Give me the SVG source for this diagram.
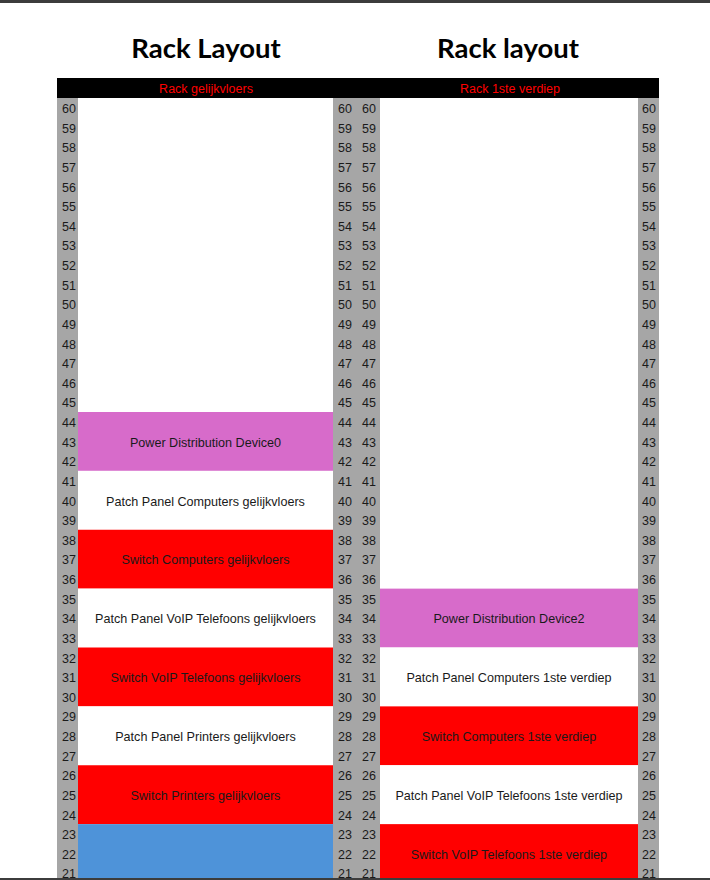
<svg xmlns="http://www.w3.org/2000/svg" width="710" height="880" viewBox="0 0 710 880">
<style>
.title{font-family:Lato,"Open Sans","Liberation Sans",sans-serif;font-weight:bold;font-size:27.5px;fill:#000;text-anchor:middle}
.hdr{font-family:"Liberation Sans",Arial,sans-serif;font-size:12.5px;fill:#ff0000;text-anchor:middle}
.num{font-family:"Liberation Sans",Arial,sans-serif;font-size:12.5px;fill:#1a1a1a}
.lbl{font-family:"Liberation Sans",Arial,sans-serif;font-size:12.6px;fill:#1a1a1a;text-anchor:middle}
.gray{fill:#a6a6a6}
.pink{fill:#d76bca}
.red{fill:#ff0000}
.white{fill:#ffffff}
.blue{fill:#4e93d9}
</style>
<rect x="0" y="0" width="710" height="880" fill="#ffffff"/>
<rect x="0" y="0" width="710" height="3" fill="#3c3c3c"/>
<text class="title" x="206" y="58">Rack Layout</text>
<text class="title" x="508" y="58">Rack layout</text>
<rect x="57" y="78" width="602" height="20" fill="#000000"/>
<text class="hdr" x="206" y="92.5">Rack gelijkvloers</text>
<text class="hdr" x="510" y="92.5">Rack 1ste verdiep</text>
<g id="columns">
<rect class="gray" x="57" y="98" width="21" height="782"/>
<rect class="gray" x="333" y="98" width="47" height="782"/>
<rect class="gray" x="638" y="98" width="21" height="782"/>
</g>
<g id="left-pdu"><rect class="pink" x="78" y="412" width="255" height="58.875"/><text class="lbl" x="205.5" y="446.625">Power Distribution Device0</text></g>
<g id="left-pp-computers"><rect class="white" x="78" y="470.875" width="255" height="58.875"/><text class="lbl" x="205.5" y="505.5">Patch Panel Computers gelijkvloers</text></g>
<g id="left-sw-computers"><rect class="red" x="78" y="529.75" width="255" height="58.875"/><text class="lbl" x="205.5" y="564.375">Switch Computers gelijkvloers</text></g>
<g id="left-pp-voip"><rect class="white" x="78" y="588.625" width="255" height="58.875"/><text class="lbl" x="205.5" y="623.25">Patch Panel VoIP Telefoons gelijkvloers</text></g>
<g id="left-sw-voip"><rect class="red" x="78" y="647.5" width="255" height="58.875"/><text class="lbl" x="205.5" y="682.125">Switch VoIP Telefoons gelijkvloers</text></g>
<g id="left-pp-printers"><rect class="white" x="78" y="706.375" width="255" height="58.875"/><text class="lbl" x="205.5" y="741">Patch Panel Printers gelijkvloers</text></g>
<g id="left-sw-printers"><rect class="red" x="78" y="765.25" width="255" height="58.875"/><text class="lbl" x="205.5" y="799.875">Switch Printers gelijkvloers</text></g>
<g id="left-blue"><rect class="blue" x="78" y="824.125" width="255" height="58.875"/></g>
<g id="right-pdu"><rect class="pink" x="380" y="588.625" width="258" height="58.875"/><text class="lbl" x="509" y="623.25">Power Distribution Device2</text></g>
<g id="right-pp-computers"><rect class="white" x="380" y="647.5" width="258" height="58.875"/><text class="lbl" x="509" y="682.125">Patch Panel Computers 1ste verdiep</text></g>
<g id="right-sw-computers"><rect class="red" x="380" y="706.375" width="258" height="58.875"/><text class="lbl" x="509" y="741">Switch Computers 1ste verdiep</text></g>
<g id="right-pp-voip"><rect class="white" x="380" y="765.25" width="258" height="58.875"/><text class="lbl" x="509" y="799.875">Patch Panel VoIP Telefoons 1ste verdiep</text></g>
<g id="right-sw-voip"><rect class="red" x="380" y="824.125" width="258" height="58.875"/><text class="lbl" x="509" y="858.75">Switch VoIP Telefoons 1ste verdiep</text></g>
<g id="numbers">
<text class="num"><tspan x="62" y="113">60</tspan><tspan x="62" y="132.625">59</tspan><tspan x="62" y="152.25">58</tspan><tspan x="62" y="171.875">57</tspan><tspan x="62" y="191.5">56</tspan><tspan x="62" y="211.125">55</tspan><tspan x="62" y="230.75">54</tspan><tspan x="62" y="250.375">53</tspan><tspan x="62" y="270">52</tspan><tspan x="62" y="289.625">51</tspan><tspan x="62" y="309.25">50</tspan><tspan x="62" y="328.875">49</tspan><tspan x="62" y="348.5">48</tspan><tspan x="62" y="368.125">47</tspan><tspan x="62" y="387.75">46</tspan><tspan x="62" y="407.375">45</tspan><tspan x="62" y="427">44</tspan><tspan x="62" y="446.625">43</tspan><tspan x="62" y="466.25">42</tspan><tspan x="62" y="485.875">41</tspan><tspan x="62" y="505.5">40</tspan><tspan x="62" y="525.125">39</tspan><tspan x="62" y="544.75">38</tspan><tspan x="62" y="564.375">37</tspan><tspan x="62" y="584">36</tspan><tspan x="62" y="603.625">35</tspan><tspan x="62" y="623.25">34</tspan><tspan x="62" y="642.875">33</tspan><tspan x="62" y="662.5">32</tspan><tspan x="62" y="682.125">31</tspan><tspan x="62" y="701.75">30</tspan><tspan x="62" y="721.375">29</tspan><tspan x="62" y="741">28</tspan><tspan x="62" y="760.625">27</tspan><tspan x="62" y="780.25">26</tspan><tspan x="62" y="799.875">25</tspan><tspan x="62" y="819.5">24</tspan><tspan x="62" y="839.125">23</tspan><tspan x="62" y="858.75">22</tspan><tspan x="62" y="878.375">21</tspan></text>
<text class="num"><tspan x="338" y="113">60</tspan><tspan x="338" y="132.625">59</tspan><tspan x="338" y="152.25">58</tspan><tspan x="338" y="171.875">57</tspan><tspan x="338" y="191.5">56</tspan><tspan x="338" y="211.125">55</tspan><tspan x="338" y="230.75">54</tspan><tspan x="338" y="250.375">53</tspan><tspan x="338" y="270">52</tspan><tspan x="338" y="289.625">51</tspan><tspan x="338" y="309.25">50</tspan><tspan x="338" y="328.875">49</tspan><tspan x="338" y="348.5">48</tspan><tspan x="338" y="368.125">47</tspan><tspan x="338" y="387.75">46</tspan><tspan x="338" y="407.375">45</tspan><tspan x="338" y="427">44</tspan><tspan x="338" y="446.625">43</tspan><tspan x="338" y="466.25">42</tspan><tspan x="338" y="485.875">41</tspan><tspan x="338" y="505.5">40</tspan><tspan x="338" y="525.125">39</tspan><tspan x="338" y="544.75">38</tspan><tspan x="338" y="564.375">37</tspan><tspan x="338" y="584">36</tspan><tspan x="338" y="603.625">35</tspan><tspan x="338" y="623.25">34</tspan><tspan x="338" y="642.875">33</tspan><tspan x="338" y="662.5">32</tspan><tspan x="338" y="682.125">31</tspan><tspan x="338" y="701.75">30</tspan><tspan x="338" y="721.375">29</tspan><tspan x="338" y="741">28</tspan><tspan x="338" y="760.625">27</tspan><tspan x="338" y="780.25">26</tspan><tspan x="338" y="799.875">25</tspan><tspan x="338" y="819.5">24</tspan><tspan x="338" y="839.125">23</tspan><tspan x="338" y="858.75">22</tspan><tspan x="338" y="878.375">21</tspan></text>
<text class="num"><tspan x="362" y="113">60</tspan><tspan x="362" y="132.625">59</tspan><tspan x="362" y="152.25">58</tspan><tspan x="362" y="171.875">57</tspan><tspan x="362" y="191.5">56</tspan><tspan x="362" y="211.125">55</tspan><tspan x="362" y="230.75">54</tspan><tspan x="362" y="250.375">53</tspan><tspan x="362" y="270">52</tspan><tspan x="362" y="289.625">51</tspan><tspan x="362" y="309.25">50</tspan><tspan x="362" y="328.875">49</tspan><tspan x="362" y="348.5">48</tspan><tspan x="362" y="368.125">47</tspan><tspan x="362" y="387.75">46</tspan><tspan x="362" y="407.375">45</tspan><tspan x="362" y="427">44</tspan><tspan x="362" y="446.625">43</tspan><tspan x="362" y="466.25">42</tspan><tspan x="362" y="485.875">41</tspan><tspan x="362" y="505.5">40</tspan><tspan x="362" y="525.125">39</tspan><tspan x="362" y="544.75">38</tspan><tspan x="362" y="564.375">37</tspan><tspan x="362" y="584">36</tspan><tspan x="362" y="603.625">35</tspan><tspan x="362" y="623.25">34</tspan><tspan x="362" y="642.875">33</tspan><tspan x="362" y="662.5">32</tspan><tspan x="362" y="682.125">31</tspan><tspan x="362" y="701.75">30</tspan><tspan x="362" y="721.375">29</tspan><tspan x="362" y="741">28</tspan><tspan x="362" y="760.625">27</tspan><tspan x="362" y="780.25">26</tspan><tspan x="362" y="799.875">25</tspan><tspan x="362" y="819.5">24</tspan><tspan x="362" y="839.125">23</tspan><tspan x="362" y="858.75">22</tspan><tspan x="362" y="878.375">21</tspan></text>
<text class="num"><tspan x="642" y="113">60</tspan><tspan x="642" y="132.625">59</tspan><tspan x="642" y="152.25">58</tspan><tspan x="642" y="171.875">57</tspan><tspan x="642" y="191.5">56</tspan><tspan x="642" y="211.125">55</tspan><tspan x="642" y="230.75">54</tspan><tspan x="642" y="250.375">53</tspan><tspan x="642" y="270">52</tspan><tspan x="642" y="289.625">51</tspan><tspan x="642" y="309.25">50</tspan><tspan x="642" y="328.875">49</tspan><tspan x="642" y="348.5">48</tspan><tspan x="642" y="368.125">47</tspan><tspan x="642" y="387.75">46</tspan><tspan x="642" y="407.375">45</tspan><tspan x="642" y="427">44</tspan><tspan x="642" y="446.625">43</tspan><tspan x="642" y="466.25">42</tspan><tspan x="642" y="485.875">41</tspan><tspan x="642" y="505.5">40</tspan><tspan x="642" y="525.125">39</tspan><tspan x="642" y="544.75">38</tspan><tspan x="642" y="564.375">37</tspan><tspan x="642" y="584">36</tspan><tspan x="642" y="603.625">35</tspan><tspan x="642" y="623.25">34</tspan><tspan x="642" y="642.875">33</tspan><tspan x="642" y="662.5">32</tspan><tspan x="642" y="682.125">31</tspan><tspan x="642" y="701.75">30</tspan><tspan x="642" y="721.375">29</tspan><tspan x="642" y="741">28</tspan><tspan x="642" y="760.625">27</tspan><tspan x="642" y="780.25">26</tspan><tspan x="642" y="799.875">25</tspan><tspan x="642" y="819.5">24</tspan><tspan x="642" y="839.125">23</tspan><tspan x="642" y="858.75">22</tspan><tspan x="642" y="878.375">21</tspan></text>
</g>
<rect x="0" y="878" width="710" height="2" fill="#3c3c3c"/>
</svg>
